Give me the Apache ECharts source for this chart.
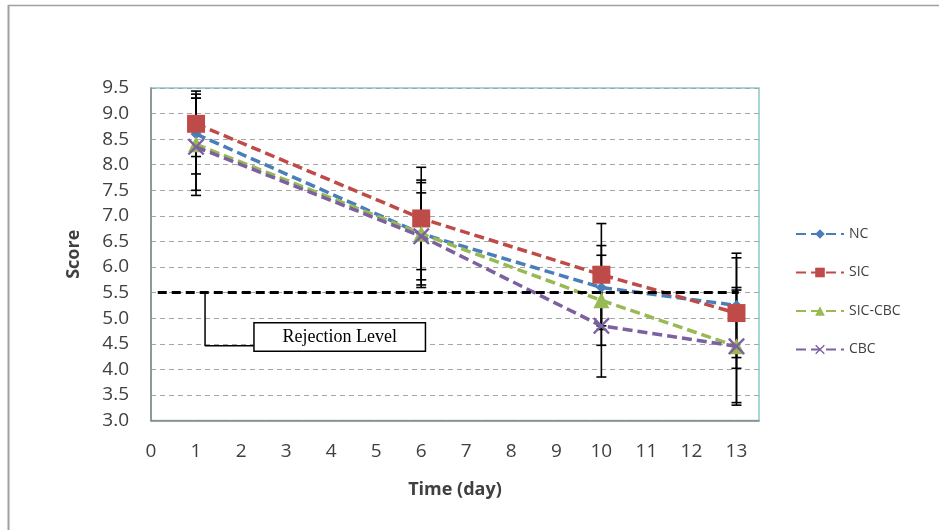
<!DOCTYPE html>
<html>
<head>
<meta charset="utf-8">
<script src="https://cdn.jsdelivr.net/npm/echarts@6/dist/echarts.min.js"></script>
<style>
  html, body { margin: 0; padding: 0; background: #fff; }
  #chart { width: 939px; height: 530px; }
</style>
</head>
<body>
<div id="chart"></div>
<script>
// Storage days
const days = [1, 6, 10, 13];

// Mean scores per treatment
const ncScore = [8.6, 6.65, 5.6, 5.25];
const sicScore = [8.8, 6.95, 5.85, 5.1];
const sicCbcScore = [8.4, 6.65, 5.35, 4.45];
const cbcScore = [8.35, 6.6, 4.85, 4.45];

// Standard deviations (error bars)
const ncSd = [0.78, 1.0, 0.82, 1.02];
const sicSd = [0.64, 1.0, 1.0, 1.08];
const sicCbcSd = [0.9, 1.05, 0.88, 1.15];
const cbcSd = [0.95, 0.85, 1.0, 1.1];

// Rejection level
const rejectionLevel = 5.5;

const FONT = 'Open Sans';
const TEXT = '#404040';

const SERIES = [
  { name: 'NC', score: ncScore, sd: ncSd, color: '#4a7ebb', symbol: 'diamond', size: 11 },
  { name: 'SIC', score: sicScore, sd: sicSd, color: '#be4b48', symbol: 'rect', size: 18 },
  { name: 'SIC-CBC', score: sicCbcScore, sd: sicCbcSd, color: '#98b954', symbol: 'triangle', size: 16 },
  { name: 'CBC', score: cbcScore, sd: cbcSd, color: '#7d60a0',
    symbol: 'path://M0,1L1,0L5,4L9,0L10,1L6,5L10,9L9,10L5,6L1,10L0,9L4,5Z', size: 17 }
];

/**
 * Draw a vertical error bar with caps
 */
function renderErrorBar(params, api) {
  const x = api.value(0);
  const y = api.value(1);
  const e = api.value(2);
  const hi = api.coord([x, y + e]);
  const lo = api.coord([x, y - e]);
  const half = 5;
  const style = { stroke: '#000', lineWidth: 1.6 };
  return {
    type: 'group',
    children: [
      { type: 'line', shape: { x1: hi[0], y1: hi[1], x2: lo[0], y2: lo[1] }, style },
      { type: 'line', shape: { x1: hi[0] - half, y1: hi[1], x2: hi[0] + half, y2: hi[1] }, style },
      { type: 'line', shape: { x1: lo[0] - half, y1: lo[1], x2: lo[0] + half, y2: lo[1] }, style }
    ]
  };
}

const errorSeries = SERIES.map(s => ({
  type: 'custom',
  name: s.name + ' SD',
  renderItem: renderErrorBar,
  data: days.map((d, i) => [d, s.score[i], s.sd[i]]),
  z: 2,
  silent: true
}));

const lineSeries = SERIES.map((s, idx) => ({
  type: 'line',
  name: s.name,
  data: days.map((d, i) => [d, s.score[i]]),
  symbol: s.symbol,
  symbolSize: s.size,
  color: s.color,
  itemStyle: { color: s.color },
  lineStyle: { color: s.color, width: 3.5, type: [10, 5] },
  z: 3 + idx
}));

const chart = echarts.init(document.getElementById('chart'));

chart.setOption({
  backgroundColor: '#fff',
  animation: false,
  graphic: [
    { type: 'line', shape: { x1: 8.5, y1: 5, x2: 8.5, y2: 530 }, style: { stroke: '#a0a0a0', lineWidth: 2 } },
    { type: 'line', shape: { x1: 8, y1: 5.5, x2: 939, y2: 5.5 }, style: { stroke: '#a0a0a0', lineWidth: 1.5 } }
  ],
  grid: {
    left: 151,
    top: 88,
    right: 180,
    bottom: 109.5,
    show: true,
    borderColor: '#8cc8cc',
    borderWidth: 1.5,
    backgroundColor: 'transparent'
  },
  legend: {
    data: SERIES.map(s => s.name),
    orient: 'vertical',
    left: 790,
    top: 222,
    itemWidth: 48,
    itemHeight: 12,
    itemGap: 24.5,
    textStyle: { fontFamily: FONT, fontSize: 14, color: TEXT }
  },
  xAxis: {
    type: 'value',
    min: 0,
    max: 13.5,
    interval: 1,
    name: 'Time (day)',
    nameLocation: 'middle',
    nameGap: 60,
    nameTextStyle: { fontFamily: FONT, fontSize: 18, fontWeight: 'bold', color: TEXT },
    axisLine: { show: true, lineStyle: { color: '#868686', width: 1.5 } },
    axisTick: { show: false },
    splitLine: { show: false },
    axisLabel: {
      margin: 22,
      fontFamily: FONT,
      fontSize: 19,
      color: TEXT,
      formatter: v => (Number.isInteger(v) ? String(v) : '')
    }
  },
  yAxis: {
    type: 'value',
    min: 3,
    max: 9.5,
    interval: 0.5,
    name: 'Score',
    nameLocation: 'middle',
    nameGap: 68,
    nameTextStyle: { fontFamily: FONT, fontSize: 18, fontWeight: 'bold', color: TEXT },
    axisLine: { show: true, lineStyle: { color: '#868686', width: 1.5 } },
    axisTick: { show: false },
    splitLine: { show: true, lineStyle: { color: '#a6a6a6', width: 1, type: [5, 4] } },
    axisLabel: {
      margin: 22,
      fontFamily: FONT,
      fontSize: 19,
      color: TEXT,
      formatter: v => v.toFixed(1)
    }
  },
  series: [
    ...errorSeries,
    ...lineSeries,
    {
      type: 'line',
      name: 'Rejection',
      data: [[0.15, rejectionLevel], [13.05, rejectionLevel]],
      symbol: 'none',
      lineStyle: { color: '#000', width: 3, type: [9, 5] },
      z: 10,
      silent: true
    },
    {
      type: 'line',
      name: 'Rejection callout',
      data: [[1.2, rejectionLevel], [1.2, 4.46], [2.28, 4.46]],
      symbol: 'none',
      lineStyle: { color: '#000', width: 1.5 },
      z: 10,
      silent: true,
      markPoint: {
        symbol: 'circle',
        symbolSize: 0,
        silent: true,
        label: {
          show: true,
          position: 'inside',
          formatter: 'Rejection Level',
          fontFamily: 'Liberation Serif',
          fontSize: 18,
          color: '#000',
          backgroundColor: '#fff',
          borderColor: '#000',
          borderWidth: 1.5,
          width: 150,
          align: 'center',
          padding: [5, 10, 4, 10]
        },
        data: [{ coord: [4.19, 4.63] }]
      }
    }
  ]
});
</script>
</body>
</html>
